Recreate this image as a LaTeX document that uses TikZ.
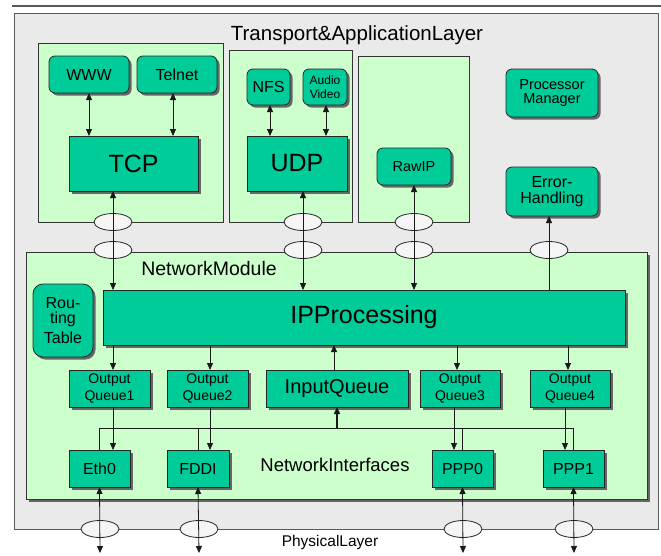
\documentclass[tikz,border=0pt]{standalone}
\usepackage{fontspec}
\setmainfont{Liberation Sans}
\usetikzlibrary{arrows.meta,shadows,shapes.geometric}
\definecolor{modgreen}{HTML}{00CC99}
\definecolor{palegreen}{HTML}{CCFFCC}
\definecolor{layergray}{HTML}{EAEAEA}
\definecolor{edgegray}{HTML}{5A5A5A}
\newcommand\fs[1]{\fontsize{#1}{#1}\selectfont}
\tikzset{
  x=1pt, y=-1pt,
  every node/.style={inner sep=0pt, outer sep=0pt, align=center},
  shade2/.style={drop shadow={shadow xshift=2.5pt, shadow yshift=-2.5pt, fill=black!60, opacity=1}},
  layerbox/.style={draw=edgegray, fill=layergray, line width=0.9pt},
  groupbox/.style={draw=black!80, fill=palegreen, line width=0.8pt},
  modbox/.style={draw=black!85, fill=modgreen, line width=0.8pt, shade2},
  roundbox/.style={modbox, rounded corners=6pt},
  port/.style={draw=black!85, fill=white!96!black, ellipse, minimum width=38pt, minimum height=17pt, line width=0.8pt},
  link/.style={draw=black!90, line width=0.8pt},
  tip/.style={-{Triangle[length=7pt,width=6pt]}},
  bitip/.style={{Triangle[length=7pt,width=6pt]}-{Triangle[length=7pt,width=6pt]}},
}
\begin{document}
\begin{tikzpicture}
\useasboundingbox (0,0) rectangle (661,555);
\fill[white] (0,0) rectangle (661,555);

% top rule
\draw[line width=1.5pt, black!65] (12,6) -- (661,6);

% transport & application layer background
\node[layerbox, minimum width=644pt, minimum height=516pt] (layer) at (336,271) {};
\node at (357,35) {\fs{20.5}Transport\&ApplicationLayer};

% transport groups
\node[groupbox, minimum width=185pt, minimum height=179pt] (grpTCP) at (130.5,132.5) {};
\node[groupbox, minimum width=123pt, minimum height=172pt] (grpUDP) at (290.5,136) {};
\node[groupbox, minimum width=111pt, minimum height=166pt] (grpRaw) at (413.5,139) {};

% applications and protocols
\node[roundbox, minimum width=80pt, minimum height=37pt] (www) at (89,74.5) {\fs{16}WWW};
\node[roundbox, minimum width=80pt, minimum height=37pt] (telnet) at (177,74.5) {\fs{16}Telnet};
\node[modbox, minimum width=129pt, minimum height=55pt] (tcp) at (133.5,163.5) {\fs{25}TCP};
\node[roundbox, minimum width=43pt, minimum height=36pt] (nfs) at (268.5,87) {\fs{16}NFS};
\node[roundbox, minimum width=44pt, minimum height=36pt] (av) at (325,87) {\fs{12}Audio\\[2pt]\fs{12}Video};
\node[modbox, minimum width=100pt, minimum height=55pt] (udp) at (297,163.5) {\fs{25}UDP};
\node[roundbox, minimum width=74pt, minimum height=37pt] (rawip) at (414,166.5) {\fs{14.5}RawIP};
\node[roundbox, minimum width=92pt, minimum height=48pt] (procmgr) at (552,93) {\fs{14.5}Processor\\[2.5pt]\fs{14.5}Manager};
\node[roundbox, minimum width=92pt, minimum height=49pt] (errh) at (552,191.5) {\fs{16}Error-\\[3.5pt]\fs{16}Handling};

% network module
\node[groupbox, shade2, minimum width=621pt, minimum height=247pt] (netmod) at (336.5,375.5) {};
\node at (209,269) {\fs{19.5}NetworkModule};
\node[modbox, minimum width=522pt, minimum height=55pt] (ipproc) at (364,317.5) {\fs{25}IPProcessing};
\node[roundbox, rounded corners=10pt, minimum width=60pt, minimum height=73pt] (routing) at (63,320.5) {\fs{16}Rou-\\[3.5pt]\fs{16}ting\\[3.5pt]\fs{16}Table};

\node[modbox, minimum width=81pt, minimum height=37pt] (oq1) at (109.5,388.5) {\fs{14}Output\\[2.5pt]\fs{14}Queue1};
\node[modbox, minimum width=81pt, minimum height=37pt] (oq2) at (207.5,388.5) {\fs{14}Output\\[2.5pt]\fs{14}Queue2};
\node[modbox, minimum width=142pt, minimum height=37pt] (inq) at (337,388.5) {\fs{20}InputQueue};
\node[modbox, minimum width=80pt, minimum height=37pt] (oq3) at (460,388.5) {\fs{14}Output\\[2.5pt]\fs{14}Queue3};
\node[modbox, minimum width=80pt, minimum height=37pt] (oq4) at (570,388.5) {\fs{14}Output\\[2.5pt]\fs{14}Queue4};

\node[modbox, minimum width=61pt, minimum height=37pt] (eth0) at (99.5,468.5) {\fs{16}Eth0};
\node[modbox, minimum width=62pt, minimum height=37pt] (fddi) at (198,468.5) {\fs{16}FDDI};
\node[modbox, minimum width=61pt, minimum height=37pt] (ppp0) at (462.5,468.5) {\fs{16}PPP0};
\node[modbox, minimum width=61pt, minimum height=37pt] (ppp1) at (573.5,468.5) {\fs{16}PPP1};
\node at (335,465) {\fs{18.5}NetworkInterfaces};
\node at (330,542) {\fs{15.5}PhysicalLayer};

% service access points
\node[port] (sTCPa) at (113,222) {};
\node[port] (sTCPb) at (113,250) {};
\node[port] (sUDPa) at (303,222) {};
\node[port] (sUDPb) at (303,250) {};
\node[port] (sRawa) at (414,222) {};
\node[port] (sRawb) at (414,250) {};
\node[port] (sErr) at (549,250) {};
\node[port] (pEth) at (100,529) {};
\node[port] (pFddi) at (199,529) {};
\node[port] (pPpp0) at (463,529) {};
\node[port] (pPpp1) at (574,529) {};

% application to transport
\draw[link, bitip] (www.south) -- (www.south |- tcp.north);
\draw[link, bitip] ([xshift=-4pt]telnet.south) -- ([xshift=-4pt]telnet.south |- tcp.north);
\draw[link, bitip] ([xshift=1.5pt]nfs.south) -- ([xshift=1.5pt]nfs.south |- udp.north);
\draw[link, bitip] ([xshift=1pt]av.south) -- ([xshift=1pt]av.south |- udp.north);

% transport to IP
\draw[link, bitip] (sTCPa.center |- tcp.south) -- (sTCPb.center |- ipproc.north);
\draw[link, bitip] (sUDPa.center |- udp.south) -- (sUDPb.center |- ipproc.north);
\draw[link, bitip] (rawip.south) -- (sRawb.center |- ipproc.north);
\draw[link, tip] (sErr.center |- ipproc.north) -- (sErr.center |- errh.south);

% IP to queues
\draw[link, tip] ([xshift=3.5pt]oq1.north |- ipproc.south) -- ([xshift=3.5pt]oq1.north);
\draw[link, tip] ([xshift=2.5pt]oq2.north |- ipproc.south) -- ([xshift=2.5pt]oq2.north);
\draw[link, tip] ([xshift=-3pt]inq.north) -- ([xshift=-3pt]inq.north |- ipproc.south);
\draw[link, tip] ([xshift=-3pt]oq3.north |- ipproc.south) -- ([xshift=-3pt]oq3.north);
\draw[link, tip] ([xshift=-2pt]oq4.north |- ipproc.south) -- ([xshift=-2pt]oq4.north);

% queues to interfaces
\draw[link, tip] ([xshift=3.5pt]oq1.south) -- ([xshift=3.5pt]oq1.south |- eth0.north);
\draw[link, tip] ([xshift=2.5pt]oq2.south) -- ([xshift=2.5pt]oq2.south |- fddi.north);
\draw[link, tip] ([xshift=-6pt]oq3.south) -- ([xshift=-6pt]oq3.south |- ppp0.north);
\draw[link, tip] ([xshift=-5pt]oq4.south) -- ([xshift=-5pt]oq4.south |- ppp1.north);

% interfaces to input queue
\coordinate (col) at (337,428);
\draw[link] (eth0.north) -- (eth0.north |- col) -- (ppp1.north |- col) -- (ppp1.north);
\draw[link] (fddi.north) -- (fddi.north |- col);
\draw[link] (ppp0.north) -- (ppp0.north |- col);
\draw[link, tip, line width=1.5pt] (col) -- (col |- inq.south);

% interfaces to physical layer
\coordinate (bEth) at (100,553);
\coordinate (bFddi) at (199,553);
\coordinate (bPpp0) at (463,553);
\coordinate (bPpp1) at (574,553);
\draw[link, bitip] (eth0.south) -- (bEth);
\draw[link, bitip] (fddi.south) -- (bFddi);
\draw[link, bitip] (ppp0.south) -- (bPpp0);
\draw[link, bitip] (ppp1.south) -- (bPpp1);
\end{tikzpicture}
\end{document}
